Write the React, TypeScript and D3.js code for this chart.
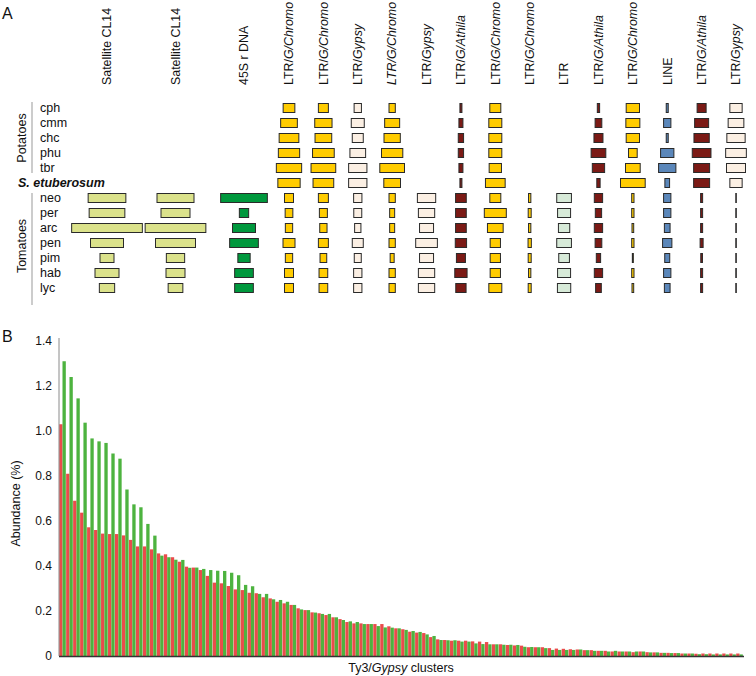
import React from "react";
import * as d3 from "d3";

const W = 756;
const H = 676;
const FONT = "'Liberation Sans', Arial, Helvetica, sans-serif";

// ---- panel A data ----
const rowNames = ["cph", "cmm", "chc", "phu", "tbr", "S. etuberosum", "neo", "per", "arc", "pen", "pim", "hab", "lyc"];

const _ = null;
// relative abundance per row (rows in rowNames order), null = not present
const satelliteA = [_, _, _, _, _, _, 3.87, 3.67, 7.17, 3.4, 1.5, 2.5, 1.63];
const satelliteB = [_, _, _, _, _, _, 3.8, 3.0, 6.17, 4.1, 1.93, 2.0, 1.57];
const rdna45S = [_, _, _, _, _, _, 4.77, 1.03, 2.4, 2.97, 1.33, 1.97, 1.97];
const chromo1 = [1.27, 1.77, 2.07, 2.23, 2.63, 2.33, 1.0, 0.87, 0.83, 1.3, 0.83, 1.0, 1.0];
const chromo2 = [1.1, 1.83, 1.77, 2.27, 2.57, 2.17, 1.1, 0.9, 0.83, 1.1, 0.77, 0.97, 0.97];
const gypsy1 = [0.83, 1.4, 1.2, 1.67, 1.93, 1.93, 0.93, 0.9, 0.73, 1.2, 0.8, 0.93, 0.93];
const chromo3 = [0.73, 1.6, 1.73, 2.23, 2.57, 1.77, 0.73, 0.6, 0.6, 0.73, 0.5, 0.73, 0.73];
const gypsy2 = [_, _, _, _, _, _, 1.93, 1.73, 1.5, 2.27, 1.5, 1.73, 1.73];
const athila1 = [0.3, 0.5, 0.63, 0.63, 0.5, 0.3, 1.17, 1.17, 1.17, 1.23, 1.0, 1.33, 1.13];
const chromo4 = [1.2, 1.4, 1.4, 1.4, 1.33, 2.07, 1.2, 2.3, 1.67, 1.13, 1.13, 1.13, 1.4];
const chromo5 = [_, _, _, _, _, _, 0.33, 0.4, 0.33, 0.43, 0.4, 0.33, 0.4];
const ltrOther = [_, _, _, _, _, _, 1.57, 1.4, 1.23, 1.57, 1.17, 1.4, 1.43];
const athila2 = [0.33, 0.77, 1.0, 1.57, 1.33, 0.43, 0.93, 0.73, 0.93, 0.77, 0.53, 0.93, 0.67];
const chromo6 = [1.43, 1.5, 1.43, 0.97, 1.57, 2.57, 0.33, 0.33, 0.27, 0.33, 0.2, 0.33, 0.27];
const lineEl = [0.3, 0.83, 0.3, 1.43, 1.83, 0.57, 0.83, 0.83, 0.67, 1.03, 0.6, 0.83, 0.67];
const athila3 = [1.0, 1.5, 1.63, 1.97, 1.7, 1.7, 0.3, 0.3, 0.3, 0.4, 0.27, 0.3, 0.3];
const gypsy3 = [1.33, 1.67, 1.93, 2.17, 2.0, 1.33, 0.15, 0.15, 0.15, 0.15, 0.15, 0.15, 0.15];

const typeColor = {
  sat: "#dbe28b",
  rdna: "#00983d",
  chromo: "#ffcc00",
  gypsy: "#fbefe3",
  athila: "#7b1a15",
  ltr: "#d7ead8",
  line: "#5b87ba",
};

// label parts: [text, italic]
const columns = [
  { label: [["Satellite CL14", false]], type: "sat", values: satelliteA },
  { label: [["Satellite CL14", false]], type: "sat", values: satelliteB },
  { label: [["45S r DNA", false]], type: "rdna", values: rdna45S },
  { label: [["LTR/", false], ["G/Chromo", true]], type: "chromo", values: chromo1 },
  { label: [["LTR/", false], ["G/Chromo", true]], type: "chromo", values: chromo2 },
  { label: [["LTR/", false], ["Gypsy", true]], type: "gypsy", values: gypsy1 },
  { label: [["LTR/G/Chromo", true]], type: "chromo", values: chromo3 },
  { label: [["LTR/", false], ["Gypsy", true]], type: "gypsy", values: gypsy2 },
  { label: [["LTR/", false], ["G/Athila", true]], type: "athila", values: athila1 },
  { label: [["LTR/", false], ["G/Chromo", true]], type: "chromo", values: chromo4 },
  { label: [["LTR/", false], ["G/Chromo", true]], type: "chromo", values: chromo5 },
  { label: [["LTR", false]], type: "ltr", values: ltrOther },
  { label: [["LTR/", false], ["G/Athila", true]], type: "athila", values: athila2 },
  { label: [["LTR/", false], ["G/Chromo", true]], type: "chromo", values: chromo6 },
  { label: [["LINE", false]], type: "line", values: lineEl },
  { label: [["LTR/", false], ["G/Athila", true]], type: "athila", values: athila3 },
  { label: [["LTR/", false], ["Gypsy", true]], type: "gypsy", values: gypsy3 },
];

// ---- panel B data ----
const redAbundance = [
  1.03, 0.81, 0.69, 0.637, 0.572, 0.56, 0.544, 0.542, 0.542, 0.536,
  0.516, 0.487, 0.487, 0.474, 0.456, 0.452, 0.439, 0.419, 0.397, 0.393,
  0.382, 0.356, 0.326, 0.323, 0.311, 0.296, 0.293, 0.281, 0.279, 0.261,
  0.256, 0.241, 0.234, 0.227, 0.212, 0.204, 0.194, 0.19, 0.182, 0.172,
  0.164, 0.151, 0.145, 0.145, 0.142, 0.142, 0.142, 0.132, 0.123, 0.119,
  0.108, 0.104, 0.102, 0.084, 0.074, 0.071, 0.068, 0.068, 0.068, 0.065,
  0.064, 0.062, 0.052, 0.052, 0.049, 0.047, 0.046, 0.039, 0.039, 0.039,
  0.035, 0.033, 0.032, 0.03, 0.029, 0.026, 0.026, 0.023, 0.023, 0.02,
  0.02, 0.02, 0.017, 0.02, 0.017, 0.016, 0.014, 0.014, 0.013, 0.011,
  0.011, 0.01, 0.011, 0.011, 0.011, 0.011, 0.011, 0.011,
];
const greenAbundance = [
  1.31, 1.24, 1.145, 1.037, 0.967, 0.954, 0.947, 0.9, 0.877, 0.74,
  0.674, 0.661, 0.587, 0.535, 0.446, 0.439, 0.428, 0.427, 0.392, 0.393,
  0.387, 0.382, 0.379, 0.378, 0.37, 0.359, 0.316, 0.31, 0.276, 0.276,
  0.252, 0.249, 0.241, 0.227, 0.207, 0.204, 0.193, 0.187, 0.187, 0.172,
  0.16, 0.154, 0.151, 0.142, 0.142, 0.133, 0.127, 0.126, 0.123, 0.116,
  0.111, 0.107, 0.096, 0.089, 0.071, 0.07, 0.07, 0.064, 0.064, 0.056,
  0.053, 0.052, 0.052, 0.05, 0.05, 0.049, 0.041, 0.04, 0.039, 0.035,
  0.027, 0.027, 0.027, 0.027, 0.029, 0.026, 0.023, 0.023, 0.02, 0.023,
  0.02, 0.02, 0.02, 0.02, 0.016, 0.016, 0.014, 0.013, 0.013, 0.011,
  0.011, 0.008, 0.008, 0.007, 0.007, 0.007, 0.007, 0.007,
];
const yTicks = [0, 0.2, 0.4, 0.6, 0.8, 1.0, 1.2, 1.4];
const yTickLabels = ["0", "0.2", "0.4", "0.6", "0.8", "1.0", "1.2", "1.4"];

export default function App() {
  // panel A scales
  const rowY = d3.scalePoint<string>().domain(rowNames).range([108, 288]);
  const wideX = d3.scalePoint<number>().domain([0, 1, 2]).range([107, 244]);
  const narrowX = d3.scalePoint<number>().domain(d3.range(3, 17)).range([289, 736]);
  const colX = (i: number) => (i < 3 ? wideX(i)! : narrowX(i)!);
  const boxW = d3.scaleLinear().domain([0, 1]).range([0, 10]);
  const boxH = 9;

  // panel B scales
  const idx = d3.range(redAbundance.length);
  const x = d3.scaleBand<number>().domain(idx).range([59, 743]);
  const sub = d3.scaleBand<string>().domain(["red", "green"]).range([0, x.bandwidth()]).paddingOuter(0.05);
  const y = d3.scaleLinear().domain([0, 1.4]).range([656, 341]);

  const rowLabel = (r: string) =>
    r === "S. etuberosum" ? (
      <text key={r} x={18} y={rowY(r)} dy="0.35em" fontWeight="bold" fontStyle="italic" fontSize={12.5}>
        {r}
      </text>
    ) : (
      <text key={r} x={40} y={rowY(r)} dy="0.35em" fontSize={12.5}>
        {r}
      </text>
    );

  const potMid = (rowY("cph")! + rowY("tbr")!) / 2;
  const tomMid = (rowY("neo")! + rowY("lyc")!) / 2 + 3;

  return (
    <svg width={W} height={H} style={{ position: "absolute", left: 0, top: 0, background: "#fff" }} fontFamily={FONT} fill="#111">
      {/* Panel A */}
      <text x={2} y={18.5} fontSize={16}>A</text>

      {columns.map((c, i) => (
        <text key={"h" + i} transform={`translate(${colX(i)},85) rotate(-90)`} dy="0.35em" fontSize={12.4}>
          {c.label.map(([t, it], k) => (
            <tspan key={k} fontStyle={it ? "italic" : "normal"}>{t}</tspan>
          ))}
        </text>
      ))}

      <line x1={32} x2={32} y1={rowY("cph")! - 6} y2={rowY("tbr")! + 5} stroke="#999" />
      <line x1={32} x2={32} y1={rowY("neo")! - 5} y2={rowY("lyc")! + 17} stroke="#999" />
      <text transform={`translate(22,${potMid}) rotate(-90)`} textAnchor="middle" dy="0.35em" fontSize={12.5}>Potatoes</text>
      <text transform={`translate(22,${tomMid}) rotate(-90)`} textAnchor="middle" dy="0.35em" fontSize={12.5}>Tomatoes</text>

      {rowNames.map(rowLabel)}

      {columns.map((c, i) =>
        c.values.map((v, r) =>
          v == null ? null : (
            <rect
              key={`b${i}-${r}`}
              x={colX(i) - boxW(v) / 2 + 0.5}
              y={rowY(rowNames[r])! - boxH / 2}
              width={Math.max(0.6, boxW(v) - 1)}
              height={boxH}
              fill={typeColor[c.type as keyof typeof typeColor]}
              stroke="#2a2a2a"
              strokeWidth={1}
            />
          )
        )
      )}

      {/* Panel B */}
      <text x={2} y={342} fontSize={16}>B</text>

      {idx.map((i) => (
        <g key={"p" + i} transform={`translate(${x(i)},0)`}>
          <rect x={sub("red")} y={y(redAbundance[i])} width={sub.bandwidth()} height={y(0) - y(redAbundance[i])} fill="#ea4b4b" />
          <rect x={sub("green")} y={y(greenAbundance[i])} width={sub.bandwidth()} height={y(0) - y(greenAbundance[i])} fill="#4db33f" />
        </g>
      ))}

      <line x1={59} x2={59} y1={338} y2={y(0)} stroke="#8a8a8a" strokeWidth={1} />
      <line x1={59} x2={744} y1={y(0) + 0.5} y2={y(0) + 0.5} stroke="#333" strokeWidth={1.3} />

      {yTicks.map((t, i) => (
        <text key={"t" + i} x={52} y={y(t)} dy="0.35em" textAnchor="end" fontSize={12}>
          {yTickLabels[i]}
        </text>
      ))}

      <text transform={`translate(16,${(y(0) + y(1.4)) / 2 + 5}) rotate(-90)`} textAnchor="middle" dy="0.35em" fontSize={12.5}>
        Abundance (%)
      </text>
      <text x={401} y={672} textAnchor="middle" fontSize={12.5}>
        Ty3/<tspan fontStyle="italic">Gypsy</tspan> clusters
      </text>
    </svg>
  );
}
